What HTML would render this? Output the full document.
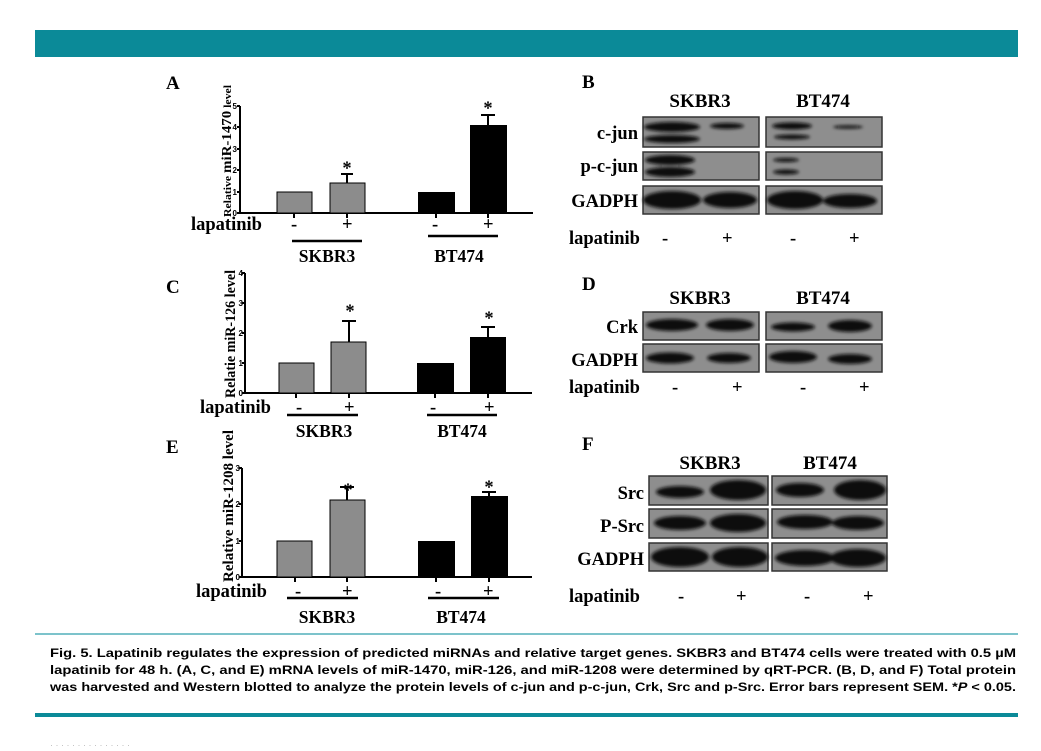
<!DOCTYPE html>
<html><head><meta charset="utf-8"><style>
html,body{margin:0;padding:0;background:#fff}
svg{display:block}
.s{font-family:"Liberation Serif",serif;font-weight:bold}
.t{font-family:"Liberation Sans",sans-serif;font-weight:bold;font-size:8px}
.c{font-family:"Liberation Sans",sans-serif;font-weight:bold;font-size:12px}
</style></head><body>
<svg width="1041" height="751" viewBox="0 0 1041 751" xmlns="http://www.w3.org/2000/svg">
<defs><filter id="b" x="-20%" y="-50%" width="140%" height="200%"><feGaussianBlur stdDeviation="1.6"/></filter></defs>
<rect x="35" y="30" width="983" height="27" fill="#0b8a98"/>
<rect x="35" y="633" width="983" height="2" fill="#7cc3cb"/>
<rect x="35" y="713" width="983" height="4" fill="#0b8a98"/>
<text class="c" x="50" y="657" textLength="966" lengthAdjust="spacingAndGlyphs">Fig. 5.   Lapatinib regulates the expression of predicted miRNAs and relative target genes. SKBR3 and BT474 cells were treated with 0.5 µM</text>
<text class="c" x="50" y="674" textLength="966" lengthAdjust="spacingAndGlyphs">lapatinib for 48 h. (A, C, and E) mRNA levels of miR-1470, miR-126, and miR-1208 were determined by qRT-PCR. (B, D, and F) Total protein</text>
<text class="c" x="50" y="691" textLength="966" lengthAdjust="spacingAndGlyphs">was harvested and Western blotted to analyze the protein levels of c-jun and p-c-jun, Crk, Src and p-Src. Error bars represent SEM. *<tspan font-style="italic">P</tspan> &lt; 0.05.</text>
<text x="50" y="748" fill="#bbb" font-size="9" font-family="Liberation Sans">·  ·   ·  ·   ·   ·  ·   ·   ·   ·   ·   ·   ·   ·  ·</text>

<!-- Panel A -->
<g stroke="#000" stroke-width="2" fill="none">
<path d="M240 106V213H533"/>
<path d="M237 106h3M237 127h3M237 149h3M237 170h3M237 192h3M237 213h3"/>
<path d="M294 213v5M347 213v5M436 213v5M488 213v5"/>
<path d="M347 183v-9M341 174h12M488 125v-10M481 115h14"/>
<path d="M292 241h70M428 236h70" stroke-width="2.5"/>
</g>
<rect x="277" y="192" width="35" height="21" fill="#8c8c8c" stroke="#000"/>
<rect x="330" y="183" width="35" height="30" fill="#8c8c8c" stroke="#000"/>
<rect x="418" y="192" width="37" height="21" fill="#000"/>
<rect x="470" y="125" width="37" height="88" fill="#000"/>
<g class="t" text-anchor="end"><text x="237" y="109">5</text><text x="237" y="130">4</text><text x="237" y="152">3</text><text x="237" y="173">2</text><text x="237" y="195">1</text><text x="237" y="216">0</text></g>
<text class="s" font-size="11" transform="translate(231 217) rotate(-90)" textLength="132" lengthAdjust="spacingAndGlyphs">Relative <tspan font-size="14">miR-1470</tspan> level</text>
<text class="s" font-size="19" x="166" y="89">A</text>
<g class="s" font-size="18.5"><text x="191" y="230">lapatinib</text><text x="291" y="230">-</text><text x="342" y="230">+</text><text x="432" y="230">-</text><text x="483" y="230">+</text>
<text x="327" y="262" text-anchor="middle" font-size="17.5">SKBR3</text><text x="459" y="262" text-anchor="middle" font-size="17.5">BT474</text>
<text x="347" y="174" text-anchor="middle">*</text><text x="488" y="114" text-anchor="middle">*</text></g>

<!-- Panel C -->
<g stroke="#000" stroke-width="2" fill="none">
<path d="M245 273V393H532"/>
<path d="M242 273h3M242 303h3M242 333h3M242 363h3M242 393h3"/>
<path d="M296 393v5M349 393v5M435 393v5M488 393v5"/>
<path d="M349 342v-21M342 321h14M488 337v-10M481 327h14"/>
<path d="M287 415h71M427 415h70" stroke-width="2.5"/>
</g>
<rect x="279" y="363" width="35" height="30" fill="#8c8c8c" stroke="#000"/>
<rect x="331" y="342" width="35" height="51" fill="#8c8c8c" stroke="#000"/>
<rect x="417" y="363" width="37" height="30" fill="#000"/>
<rect x="470" y="337" width="36" height="56" fill="#000"/>
<g class="t" text-anchor="end"><text x="243" y="276">4</text><text x="243" y="306">3</text><text x="243" y="336">2</text><text x="243" y="366">1</text><text x="243" y="396">0</text></g>
<text class="s" font-size="15" transform="translate(235 398) rotate(-90)" textLength="128" lengthAdjust="spacingAndGlyphs">Relatie miR-126 level</text>
<text class="s" font-size="19" x="166" y="293">C</text>
<g class="s" font-size="18.5"><text x="200" y="413">lapatinib</text><text x="296" y="413">-</text><text x="344" y="413">+</text><text x="430" y="413">-</text><text x="484" y="413">+</text>
<text x="324" y="437" text-anchor="middle" font-size="17.5">SKBR3</text><text x="462" y="437" text-anchor="middle" font-size="17.5">BT474</text>
<text x="350" y="317" text-anchor="middle">*</text><text x="489" y="324" text-anchor="middle">*</text></g>

<!-- Panel E -->
<g stroke="#000" stroke-width="2" fill="none">
<path d="M242 468V577H532"/>
<path d="M239 468h3M239 504h3M239 541h3M239 577h3"/>
<path d="M295 577v5M347 577v5M436 577v5M489 577v5"/>
<path d="M347 500v-13M340 487h14M489 496v-4M482 492h14"/>
<path d="M287 598h71M428 598h71" stroke-width="2.5"/>
</g>
<rect x="277" y="541" width="35" height="36" fill="#8c8c8c" stroke="#000"/>
<rect x="330" y="500" width="35" height="77" fill="#8c8c8c" stroke="#000"/>
<rect x="418" y="541" width="37" height="36" fill="#000"/>
<rect x="471" y="496" width="37" height="81" fill="#000"/>
<g class="t" text-anchor="end"><text x="240" y="471">3</text><text x="240" y="507">2</text><text x="240" y="544">1</text><text x="240" y="580">0</text></g>
<text class="s" font-size="15" transform="translate(233 582) rotate(-90)" textLength="152" lengthAdjust="spacingAndGlyphs">Relative miR-1208 level</text>
<text class="s" font-size="19" x="166" y="453">E</text>
<g class="s" font-size="18.5"><text x="196" y="597">lapatinib</text><text x="295" y="597">-</text><text x="342" y="597">+</text><text x="435" y="597">-</text><text x="483" y="597">+</text>
<text x="327" y="623" text-anchor="middle" font-size="17.5">SKBR3</text><text x="461" y="623" text-anchor="middle" font-size="17.5">BT474</text>
<text x="348" y="496" text-anchor="middle">*</text><text x="489" y="493" text-anchor="middle">*</text></g>

<!-- Panel B -->
<g class="s" font-size="18.5">
<text x="582" y="88" font-size="19">B</text>
<text x="700" y="107" text-anchor="middle" font-size="19">SKBR3</text><text x="823" y="107" text-anchor="middle" font-size="19">BT474</text>
<g text-anchor="end"><text x="638" y="139">c-jun</text><text x="638" y="172">p-c-jun</text><text x="638" y="207">GADPH</text></g>
<text x="569" y="244">lapatinib</text><text x="662" y="244">-</text><text x="722" y="244">+</text><text x="790" y="244">-</text><text x="849" y="244">+</text>
</g>
<g stroke="#333" stroke-width="1.5" fill="#8e8e8e">
<rect x="643" y="117" width="116" height="30"/><rect x="766" y="117" width="116" height="30"/>
<rect x="643" y="152" width="116" height="28"/><rect x="766" y="152" width="116" height="28"/>
<rect x="643" y="186" width="116" height="28"/><rect x="766" y="186" width="116" height="28"/>
</g>
<g fill="#111" filter="url(#b)">
<ellipse cx="672" cy="127" rx="28" ry="5"/><ellipse cx="672" cy="139" rx="28" ry="4"/><ellipse cx="727" cy="126" rx="17" ry="3"/>
<ellipse cx="792" cy="126" rx="20" ry="3.5"/><ellipse cx="792" cy="137" rx="18" ry="2.5"/><ellipse cx="848" cy="127" rx="15" ry="1.6"/>
<ellipse cx="670" cy="160" rx="25" ry="5"/><ellipse cx="670" cy="172" rx="25" ry="5"/>
<ellipse cx="786" cy="160" rx="13" ry="2"/><ellipse cx="786" cy="172" rx="13" ry="2.5"/>
<ellipse cx="672" cy="200" rx="29" ry="9"/><ellipse cx="730" cy="200" rx="27" ry="8"/>
<ellipse cx="795" cy="200" rx="28" ry="9"/><ellipse cx="850" cy="201" rx="27" ry="7"/>
</g>

<!-- Panel D -->
<g class="s" font-size="18.5">
<text x="582" y="290" font-size="19">D</text>
<text x="700" y="304" text-anchor="middle" font-size="19">SKBR3</text><text x="823" y="304" text-anchor="middle" font-size="19">BT474</text>
<g text-anchor="end"><text x="638" y="333">Crk</text><text x="638" y="366">GADPH</text></g>
<text x="569" y="393">lapatinib</text><text x="672" y="393">-</text><text x="732" y="393">+</text><text x="800" y="393">-</text><text x="859" y="393">+</text>
</g>
<g stroke="#333" stroke-width="1.5" fill="#8e8e8e">
<rect x="643" y="312" width="116" height="28"/><rect x="766" y="312" width="116" height="28"/>
<rect x="643" y="344" width="116" height="28"/><rect x="766" y="344" width="116" height="28"/>
</g>
<g fill="#111" filter="url(#b)">
<ellipse cx="672" cy="325" rx="26" ry="6"/><ellipse cx="730" cy="325" rx="24" ry="6"/>
<ellipse cx="793" cy="327" rx="22" ry="4.5"/><ellipse cx="850" cy="326" rx="22" ry="6"/>
<ellipse cx="670" cy="358" rx="24" ry="5.5"/><ellipse cx="729" cy="358" rx="22" ry="5"/>
<ellipse cx="793" cy="357" rx="24" ry="6"/><ellipse cx="850" cy="359" rx="22" ry="5"/>
</g>

<!-- Panel F -->
<g class="s" font-size="18.5">
<text x="582" y="450" font-size="19">F</text>
<text x="710" y="469" text-anchor="middle" font-size="19">SKBR3</text><text x="830" y="469" text-anchor="middle" font-size="19">BT474</text>
<g text-anchor="end"><text x="644" y="499">Src</text><text x="644" y="532">P-Src</text><text x="644" y="565">GADPH</text></g>
<text x="569" y="602">lapatinib</text><text x="678" y="602">-</text><text x="736" y="602">+</text><text x="804" y="602">-</text><text x="863" y="602">+</text>
</g>
<g stroke="#333" stroke-width="1.5" fill="#8e8e8e">
<rect x="649" y="476" width="119" height="29"/><rect x="772" y="476" width="115" height="29"/>
<rect x="649" y="509" width="119" height="29"/><rect x="772" y="509" width="115" height="29"/>
<rect x="649" y="543" width="119" height="28"/><rect x="772" y="543" width="115" height="28"/>
</g>
<g fill="#111" filter="url(#b)">
<ellipse cx="680" cy="492" rx="24" ry="6"/><ellipse cx="738" cy="490" rx="28" ry="10"/>
<ellipse cx="800" cy="490" rx="24" ry="7"/><ellipse cx="860" cy="490" rx="26" ry="10"/>
<ellipse cx="680" cy="523" rx="26" ry="7"/><ellipse cx="738" cy="523" rx="28" ry="9"/>
<ellipse cx="805" cy="522" rx="28" ry="7"/><ellipse cx="858" cy="523" rx="26" ry="7"/>
<ellipse cx="680" cy="557" rx="29" ry="10"/><ellipse cx="740" cy="557" rx="28" ry="10"/>
<ellipse cx="805" cy="558" rx="30" ry="8"/><ellipse cx="858" cy="558" rx="28" ry="9"/>
</g>
</svg>
</body></html>
